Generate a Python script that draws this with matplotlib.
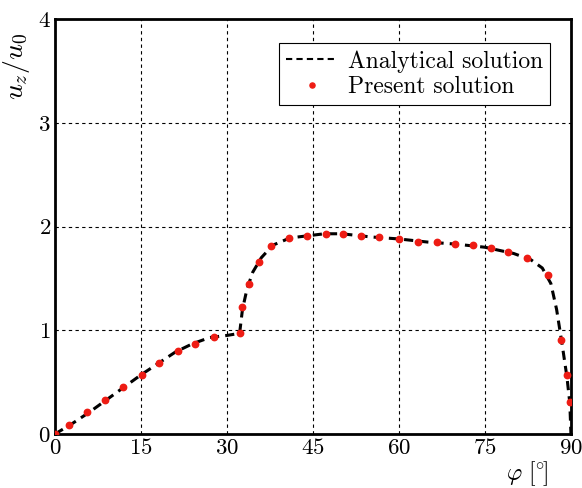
import numpy as np
import matplotlib
matplotlib.use("Agg")
import matplotlib.pyplot as plt

# analytical curve
phi_line = [0, 3, 6, 9, 12, 15, 18, 21, 24, 27, 30, 32.2, 32.7, 33.5, 34.5,
            36, 38, 41, 44, 47, 50, 55, 60, 65, 70, 75, 80, 83, 85, 86.5,
            87.5, 88.5, 89.3, 89.8, 90]
u_line = [0, 0.10, 0.21, 0.33, 0.45, 0.57, 0.68, 0.79, 0.87, 0.93, 0.95, 0.97,
          1.20, 1.40, 1.56, 1.70, 1.82, 1.89, 1.91, 1.93, 1.93, 1.90, 1.88,
          1.85, 1.83, 1.80, 1.74, 1.68, 1.60, 1.45, 1.20, 0.85, 0.55, 0.30, 0.0]

# present solution points
phi_pts = [0, 2.4, 5.6, 8.8, 11.9, 15.1, 18.2, 21.4, 24.5, 27.7, 32.2, 32.7,
           33.9, 35.6, 37.7, 40.8, 44.0, 47.2, 50.3, 53.4, 56.6, 60.0, 63.4,
           66.6, 69.7, 72.9, 76.0, 79.1, 82.3, 86.0, 88.2, 89.3, 89.8]
u_pts = [0, 0.087, 0.21, 0.33, 0.456, 0.572, 0.687, 0.797, 0.867, 0.932,
         0.97, 1.227, 1.449, 1.658, 1.81, 1.886, 1.908, 1.928, 1.928, 1.911,
         1.895, 1.876, 1.85, 1.85, 1.831, 1.819, 1.793, 1.757, 1.693, 1.535,
         0.909, 0.566, 0.311]

plt.rcParams['font.family'] = 'serif'
plt.rcParams['font.serif'] = ['cmr10']
plt.rcParams['mathtext.fontset'] = 'cm'
plt.rcParams['axes.formatter.use_mathtext'] = True

fig = plt.figure(figsize=(5.82, 4.88), dpi=100)
ax = fig.add_axes([0.0945, 0.1107, 0.8865, 0.8503])

ax.plot(phi_line, u_line, color='black', linestyle=(0, (3, 2)), linewidth=2.2,
        label='Analytical solution', zorder=3)
ax.plot(phi_pts, u_pts, linestyle='none', marker='o', markersize=4.6,
        color='#ee1c14', label='Present solution', zorder=4)

ax.set_xlim(0, 90)
ax.set_ylim(0, 4)
ax.set_xticks(np.arange(0, 91, 15))
ax.set_yticks([0, 1, 2, 3, 4])
ax.tick_params(length=0, labelsize=16.5, pad=3)
ax.grid(True, color='black', linestyle=(0, (3, 3)), linewidth=0.8)
for sp in ax.spines.values():
    sp.set_linewidth(2)

ax.set_ylabel(r'$u_z/u_0$', fontsize=20)
ax.yaxis.set_label_coords(-0.045, 0.887)
ax.set_xlabel(r'$\varphi\ [^{\circ}\!]$', fontsize=17)
ax.xaxis.set_label_coords(0.915, -0.062)

leg = ax.legend(loc='upper right', bbox_to_anchor=(0.959, 0.942),
                borderaxespad=0, fontsize=17, fancybox=False, framealpha=1,
                edgecolor='black', borderpad=0.3, labelspacing=0.15,
                handlelength=2.2, handletextpad=0.4, numpoints=1,
                markerscale=0.8)
leg.get_frame().set_linewidth(0.8)
hl = leg.legend_handles[0]
hl.set_linewidth(1.5)
hl.set_linestyle((0, (3, 2)))

fig.savefig('out.png', dpi=100)
